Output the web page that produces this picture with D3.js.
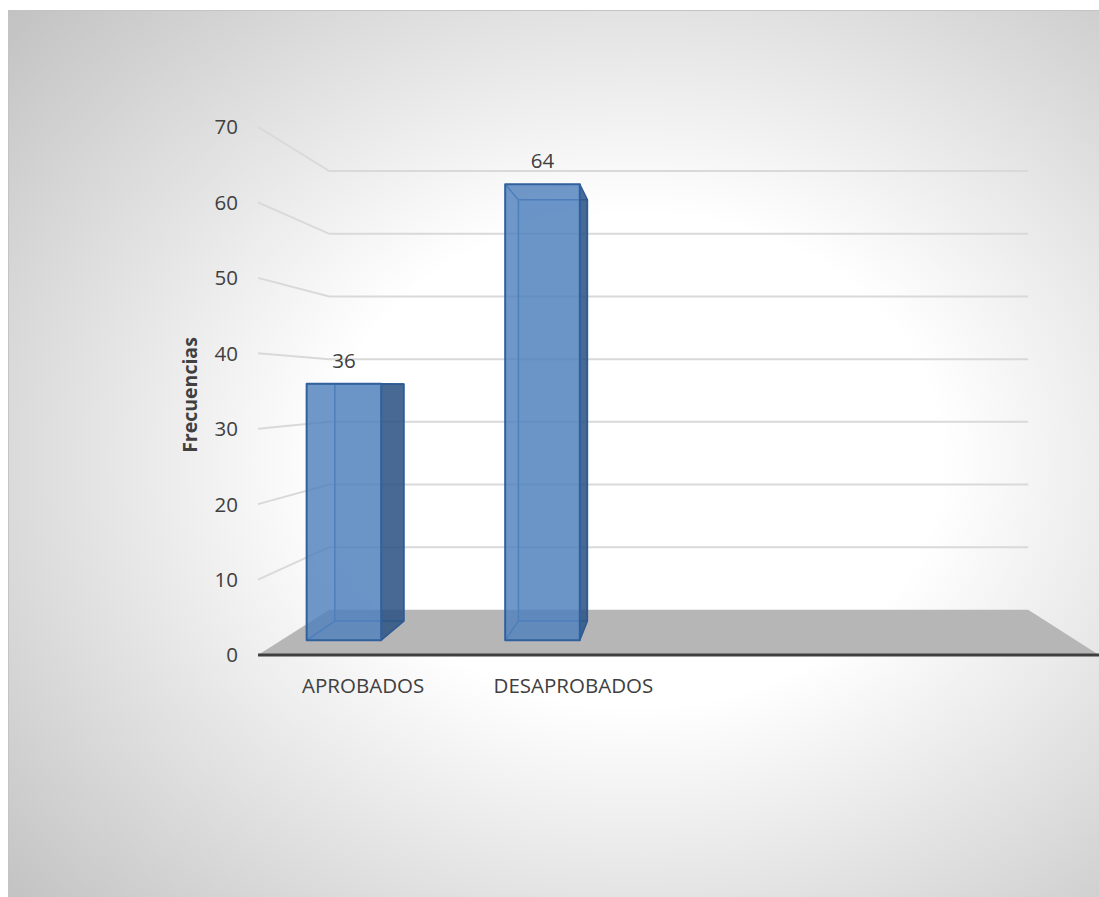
<!DOCTYPE html>
<html>
<head>
<meta charset="utf-8">
<script src="https://cdn.jsdelivr.net/npm/d3@7/dist/d3.min.js"></script>
<style>
  html, body { margin: 0; padding: 0; background: #ffffff; }
  svg { display: block; }
  text { font-family: "Open Sans", "Liberation Sans", sans-serif; fill: #404040; }
</style>
</head>
<body>
<svg id="chart" width="1099" height="897"></svg>
<script>
// Chart data
const categories = ["APROBADOS", "DESAPROBADOS"];
const frequencies = [36, 64];
const tickValues = [0, 10, 20, 30, 40, 50, 60, 70];
const yTitle = "Frecuencias";

const svg = d3.select("#chart");

// Background: radial gradient chart area
const defs = svg.append("defs");
const grad = defs.append("radialGradient")
  .attr("id", "bgGrad")
  .attr("cx", 0.56).attr("cy", 0.5).attr("r", 0.78);
grad.append("stop").attr("offset", "0%").attr("stop-color", "#ffffff");
grad.append("stop").attr("offset", "35%").attr("stop-color", "#ffffff");
grad.append("stop").attr("offset", "100%").attr("stop-color", "#bebebe");

svg.append("rect")
  .attr("x", 8.5).attr("y", 10.5)
  .attr("width", 1120).attr("height", 900)
  .attr("fill", "url(#bgGrad)")
  .attr("stroke", "#c4c4c4").attr("stroke-width", 1);

// 3D perspective model: front plane value scale + vanishing point
const yFront = d3.scaleLinear().domain([0, 70]).range([655, 127]);
const floorX = [258, 1099];           // front edge of floor (front plane x)
const vp = { x: 680, y: 388 };        // vanishing point
const k = 0.2034;                     // perspective strength along depth
const sDepth = z => 1 / (1 + k * z);  // scale factor at depth z (0 front, 1 back wall)

function project(X, v, z) {
  const s = sDepth(z);
  return [vp.x + s * (X - vp.x), vp.y + s * (yFront(v) - vp.y)];
}

// Category bands along the front plane
const xBand = d3.scaleBand()
  .domain(categories)
  .range([floorX[0], floorX[0] + 2 * 210.25]);

const barWidth = 79;
const barShift = -39;            // bars sit left of the slot centre
const barDepth = [0.29, 0.715];  // depth range occupied by the columns

// Back wall gridlines and side wall lines
const gridColor = "#d9d9d9";
const grid = svg.append("g").attr("fill", "none").attr("stroke", gridColor).attr("stroke-width", 2);
tickValues.filter(v => v > 0).forEach(v => {
  const bl = project(floorX[0], v, 1);
  const br = project(floorX[1], v, 1);
  const fl = project(floorX[0], v, 0);
  grid.append("path").attr("d", d3.line()([fl, bl, br]));
});

// Floor
const floorPts = [
  project(floorX[0], 0, 0), project(floorX[0], 0, 1),
  project(floorX[1], 0, 1), project(floorX[1], 0, 0)
];
svg.append("polygon")
  .attr("points", floorPts.map(p => p.join(",")).join(" "))
  .attr("fill", "#b6b6b6");

// Front edge of floor (category axis line)
svg.append("line")
  .attr("x1", floorX[0]).attr("x2", floorX[1])
  .attr("y1", yFront(0)).attr("y2", yFront(0))
  .attr("stroke", "#3f3f3f").attr("stroke-width", 3);

// Columns
const bars = svg.append("g");
categories.forEach((c, i) => {
  const v = frequencies[i];
  const cx = xBand(c) + xBand.bandwidth() / 2 + barShift;
  const x0 = cx - barWidth / 2, x1 = cx + barWidth / 2;
  const [z0, z1] = barDepth;
  const flt = project(x0, v, z0), frt = project(x1, v, z0);
  const flb = project(x0, 0, z0), frb = project(x1, 0, z0);
  const blt = project(x0, v, z1), brt = project(x1, v, z1);
  const blb = project(x0, 0, z1), brb = project(x1, 0, z1);
  const poly = pts => pts.map(p => p.join(",")).join(" ");

  const g = bars.append("g").attr("stroke-linejoin", "round");
  // hidden edges seen through the translucent column
  g.append("polygon").attr("points", poly([blt, brt, brb, blb]))
    .attr("fill", "#4f81bd").attr("fill-opacity", 0.15)
    .attr("stroke", "#4472b0").attr("stroke-width", 1.5);
  g.append("line").attr("x1", flb[0]).attr("y1", flb[1]).attr("x2", blb[0]).attr("y2", blb[1])
    .attr("stroke", "#4472b0").attr("stroke-width", 1.5);
  g.append("line").attr("x1", flt[0]).attr("y1", flt[1]).attr("x2", blt[0]).attr("y2", blt[1])
    .attr("stroke", "#4472b0").attr("stroke-width", 1.5);
  // right side face
  g.append("polygon").attr("points", poly([frt, brt, brb, frb]))
    .attr("fill", "#2c5283").attr("fill-opacity", 0.85)
    .attr("stroke", "#2f5a92").attr("stroke-width", 1.5);
  // front face
  g.append("polygon").attr("points", poly([flt, frt, frb, flb]))
    .attr("fill", "#4f81bd").attr("fill-opacity", 0.82)
    .attr("stroke", "#31609c").attr("stroke-width", 2);

  // value label
  svg.append("text")
    .attr("x", (flt[0] + frt[0]) / 2)
    .attr("y", flt[1] - 16)
    .attr("text-anchor", "middle")
    .attr("font-size", 20.5)
    .text(v);
});

// Value axis tick labels (front plane)
svg.append("g").selectAll("text")
  .data(tickValues)
  .join("text")
  .attr("x", 238)
  .attr("y", d => yFront(d))
  .attr("dy", "0.36em")
  .attr("text-anchor", "end")
  .attr("font-size", 20.5)
  .text(d => d);

// Category labels
svg.append("g").selectAll("text")
  .data(categories)
  .join("text")
  .attr("x", d => xBand(d) + xBand.bandwidth() / 2)
  .attr("y", 693)
  .attr("text-anchor", "middle")
  .attr("font-size", 20.5)
  .text(d => d);

// Value axis title
svg.append("text")
  .attr("transform", "translate(197,395) rotate(-90)")
  .attr("text-anchor", "middle")
  .attr("font-size", 19.5)
  .attr("font-weight", "bold")
  .text(yTitle);
</script>
</body>
</html>
